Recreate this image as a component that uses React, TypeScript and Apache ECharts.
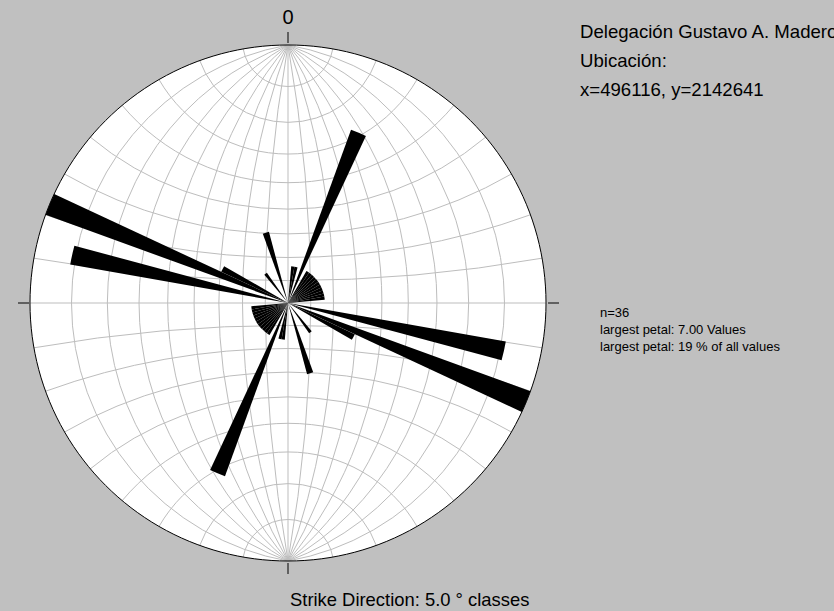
import React, { useEffect, useRef } from "react";
import * as echarts from "echarts";

// 5° strike classes from 0° to 180° (bidirectional rose: mirrored to 180°–360°)
const classWidth = 5;
const strikeCounts = [
  0, 1, 1, 0, 5, 0, 1, 1, 1, 1, 1, 1, 1, 1, 1, 1, 1, 0,
  0, 0, 6, 0, 7, 2, 0, 0, 0, 0, 1, 0, 0, 0, 2, 0, 0, 0,
];
const roseValues = [...strikeCounts, ...strikeCounts];
const classLabels = roseValues.map((_, i) => `${i * classWidth}-${(i + 1) * classWidth}`);
const maxPetal = 7;
const netSteps = [10, 20, 30, 40, 50, 60, 70, 80];
const northLabel = "0";
const titleLines = ["Delegación Gustavo A. Madero", "Ubicación:", "x=496116, y=2142641"];
const statLines = ["n=36", "largest petal: 7.00 Values", "largest petal: 19 % of all values"];
const footerText = "Strike Direction: 5.0 ° classes";

const CX = 288;
const CY = 303;
const R = 258;
const GRID = "#bdbdbd";
const FONT = "Arial, 'Liberation Sans', sans-serif";

function buildNet() {
  const els: any[] = [];
  const lineStyle = { stroke: GRID, lineWidth: 1, fill: "none" };
  els.push({ type: "circle", z: 0, silent: true, shape: { cx: CX, cy: CY, r: R }, style: { fill: "#ffffff", stroke: "none" } });
  netSteps.forEach((d) => {
    const t = (d * Math.PI) / 180;
    const a = Math.PI / 2 - t;
    els.push({ type: "arc", z: 1, silent: true, shape: { cx: CX - R * Math.tan(t), cy: CY, r: R / Math.cos(t), startAngle: -a, endAngle: a, clockwise: true }, style: lineStyle });
    els.push({ type: "arc", z: 1, silent: true, shape: { cx: CX + R * Math.tan(t), cy: CY, r: R / Math.cos(t), startAngle: Math.PI - a, endAngle: Math.PI + a, clockwise: true }, style: lineStyle });
    els.push({ type: "arc", z: 1, silent: true, shape: { cx: CX, cy: CY - R / Math.cos(t), r: R * Math.tan(t), startAngle: t, endAngle: Math.PI - t, clockwise: true }, style: lineStyle });
    els.push({ type: "arc", z: 1, silent: true, shape: { cx: CX, cy: CY + R / Math.cos(t), r: R * Math.tan(t), startAngle: -Math.PI + t, endAngle: -t, clockwise: true }, style: lineStyle });
  });
  els.push({ type: "line", z: 1, silent: true, shape: { x1: CX - R, y1: CY, x2: CX + R, y2: CY }, style: lineStyle });
  els.push({ type: "line", z: 1, silent: true, shape: { x1: CX, y1: CY - R, x2: CX, y2: CY + R }, style: lineStyle });
  els.push({ type: "circle", z: 3, silent: true, shape: { cx: CX, cy: CY, r: R }, style: { fill: "none", stroke: "#000", lineWidth: 1 } });
  const tk = { stroke: "#000", lineWidth: 1 };
  els.push({ type: "line", z: 3, silent: true, shape: { x1: CX, y1: CY - R - 2, x2: CX, y2: CY - R - 13 }, style: tk });
  els.push({ type: "line", z: 3, silent: true, shape: { x1: CX, y1: CY + R + 2, x2: CX, y2: CY + R + 13 }, style: tk });
  els.push({ type: "line", z: 3, silent: true, shape: { x1: CX - R - 1, y1: CY, x2: CX - R - 12, y2: CY }, style: tk });
  els.push({ type: "line", z: 3, silent: true, shape: { x1: CX + R + 2, y1: CY, x2: CX + R + 13, y2: CY }, style: tk });
  return els;
}

function textEl(text: string, x: number, y: number, size: number, align = "left") {
  return {
    type: "text",
    z: 5,
    silent: true,
    style: {
      text,
      x,
      y,
      fill: "#000",
      font: `${size}px ${FONT}`,
      textAlign: align,
      align,
      textVerticalAlign: "middle",
      verticalAlign: "middle",
    },
  };
}

export default function App() {
  const ref = useRef<HTMLDivElement>(null);
  useEffect(() => {
    document.body.style.margin = "0";
    const chart = echarts.init(ref.current!, null, { renderer: "svg" });
    const texts = [
      textEl(northLabel, CX, 17, 20, "center"),
      ...titleLines.map((t, i) => textEl(t, 580, 31 + i * 29, 18.6)),
      ...statLines.map((t, i) => textEl(t, 600, 312 + i * 17, 13)),
      textEl(footerText, 290, 599, 18.4),
    ];
    chart.setOption({
      animation: false,
      backgroundColor: "#c0c0c0",
      polar: { center: [CX, CY], radius: R },
      angleAxis: { type: "category", data: classLabels, startAngle: 90, clockwise: true, boundaryGap: true, show: false },
      radiusAxis: { type: "value", min: 0, max: maxPetal, show: false },
      graphic: { elements: [...buildNet(), ...texts] },
      series: [
        {
          type: "bar",
          coordinateSystem: "polar",
          data: roseValues,
          barCategoryGap: "0%",
          barGap: "0%",
          itemStyle: { color: "#000" },
          silent: true,
          z: 2,
        },
      ],
    });
    return () => chart.dispose();
  }, []);
  return <div ref={ref} style={{ position: "absolute", left: 0, top: 0, width: 834, height: 611 }} />;
}
